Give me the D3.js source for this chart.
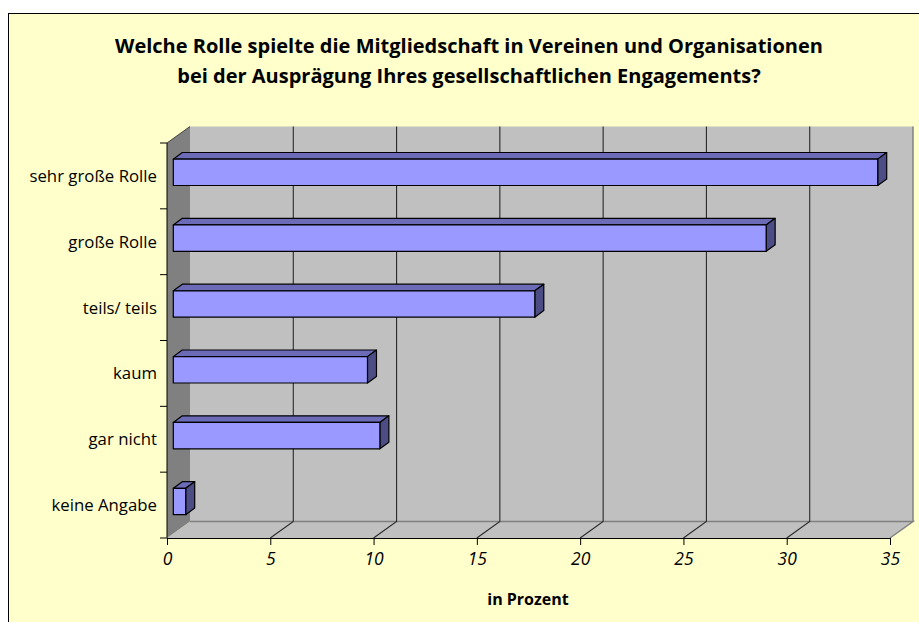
<!DOCTYPE html>
<html>
<head>
<meta charset="utf-8">
<script src="https://cdn.jsdelivr.net/npm/d3@7"></script>
<style>
  html, body { margin: 0; padding: 0; background: #fff; }
  text { font-family: "Open Sans", sans-serif; fill: #000; }
</style>
</head>
<body>
<div id="chart"></div>
<script>
// data
const categories = ["sehr große Rolle", "große Rolle", "teils/ teils", "kaum", "gar nicht", "keine Angabe"];
const values = [34.1, 28.7, 17.5, 9.4, 10.0, 0.6];
const xTicks = [0, 5, 10, 15, 20, 25, 30, 35];
const titleLines = [
  "Welche Rolle spielte die Mitgliedschaft in Vereinen und Organisationen",
  "bei der Ausprägung Ihres gesellschaftlichen Engagements?"
];
const xLabel = "in Prozent";

const W = 919, H = 622;
const svg = d3.select("#chart").append("svg").attr("width", W).attr("height", H);

// background box
svg.append("rect")
  .attr("x", 8.5).attr("y", 13.5).attr("width", 930).attr("height", 630)
  .attr("fill", "#ffffcc").attr("stroke", "#000").attr("stroke-width", 1);

// scales
const x = d3.scaleLinear().domain([0, 35]).range([167, 890]);
const y = d3.scaleBand().domain(categories).range([143, 538]);
const DX = 23, DY = -16.5; // wall depth
const plotTop = 143, plotBottom = 538;

// back wall
svg.append("rect")
  .attr("x", x(0) + DX).attr("y", plotTop + DY)
  .attr("width", x(35) - x(0)).attr("height", plotBottom - plotTop)
  .attr("fill", "#c0c0c0");
svg.append("line")
  .attr("x1", x(35) + DX).attr("x2", x(35) + DX)
  .attr("y1", plotTop + DY).attr("y2", plotBottom + DY)
  .attr("stroke", "#808080").attr("stroke-width", 1.5);

// floor
svg.append("polygon")
  .attr("points", [[x(0), plotBottom], [x(35), plotBottom], [x(35) + DX, plotBottom + DY], [x(0) + DX, plotBottom + DY]].join(" "))
  .attr("fill", "#c0c0c0");
svg.append("path")
  .attr("d", `M${x(0) + DX},${plotBottom + DY}H${x(35) + DX}L${x(35)},${plotBottom}`)
  .attr("fill", "none").attr("stroke", "#808080").attr("stroke-width", 1.5);

// left wall
svg.append("polygon")
  .attr("points", [[x(0), plotTop], [x(0) + DX, plotTop + DY], [x(0) + DX, plotBottom + DY], [x(0), plotBottom]].join(" "))
  .attr("fill", "#808080");
svg.append("line")
  .attr("x1", x(0)).attr("y1", plotTop).attr("x2", x(0) + DX).attr("y2", plotTop + DY)
  .attr("stroke", "#404040").attr("stroke-width", 1);

// gridlines
const grid = svg.append("g").attr("stroke", "#2a2a2a").attr("stroke-width", 1.1).attr("fill", "none");
xTicks.filter(d => d > 0 && d < 35).forEach(d => {
  grid.append("path")
    .attr("d", `M${x(d)},${plotBottom}L${x(d) + DX},${plotBottom + DY}V${plotTop + DY}`);
});

// bars
const bh = 26.4;
const b0 = [6.3, -3.6], b1 = [15.3, -10.2];
const bars = svg.append("g").attr("stroke", "#000").attr("stroke-width", 1.2).attr("stroke-linejoin", "round");
categories.forEach((c, i) => {
  const v = values[i];
  const yt = y(c) + (y.bandwidth() - bh) / 2 + b0[1];
  const xl = x(0) + b0[0], xr = x(v) + b0[0];
  const ddx = b1[0] - b0[0], ddy = b1[1] - b0[1];
  // top
  bars.append("polygon")
    .attr("points", [[xl, yt], [xl + ddx, yt + ddy], [xr + ddx, yt + ddy], [xr, yt]].join(" "))
    .attr("fill", "#6b6bb8");
  // side
  bars.append("polygon")
    .attr("points", [[xr, yt], [xr + ddx, yt + ddy], [xr + ddx, yt + bh + ddy], [xr, yt + bh]].join(" "))
    .attr("fill", "#4d4d85");
  // front
  bars.append("rect")
    .attr("x", xl).attr("y", yt).attr("width", xr - xl).attr("height", bh)
    .attr("fill", "#9999ff");
});

// y axis
const yAxis = svg.append("g").attr("stroke", "#000").attr("stroke-width", 1);
yAxis.append("line").attr("x1", x(0)).attr("x2", x(0)).attr("y1", plotTop).attr("y2", plotBottom);
categories.concat([null]).forEach(c => {
  const yy = c === null ? plotBottom : y(c);
  yAxis.append("line").attr("x1", x(0) - 7).attr("x2", x(0)).attr("y1", yy).attr("y2", yy);
});
svg.append("g").selectAll("text").data(categories).join("text")
  .attr("x", 157)
  .attr("y", d => y(d) + y.bandwidth() / 2)
  .attr("dy", "0.36em")
  .attr("text-anchor", "end")
  .attr("font-size", 16.8)
  .text(d => d);

// x axis
const xAxis = d3.axisBottom(x).tickValues(xTicks).tickSize(7).tickPadding(8).tickFormat(d3.format("d"));
const gx = svg.append("g").attr("transform", `translate(0,${plotBottom})`).call(xAxis);
gx.select(".domain").attr("stroke", "#000");
gx.selectAll(".tick line").attr("stroke", "#000");
gx.selectAll(".tick text")
  .attr("font-size", 17.5).attr("font-style", "italic")
  .attr("font-family", "'Open Sans', sans-serif").attr("fill", "#000");

svg.append("text")
  .attr("x", 528).attr("y", 605)
  .attr("text-anchor", "middle")
  .attr("font-size", 16).attr("font-weight", "bold")
  .text(xLabel);

// title
svg.append("g").selectAll("text").data(titleLines).join("text")
  .attr("x", 469)
  .attr("y", (d, i) => 53 + i * 30)
  .attr("text-anchor", "middle")
  .attr("font-size", 20).attr("font-weight", "bold")
  .text(d => d);
</script>
</body>
</html>
